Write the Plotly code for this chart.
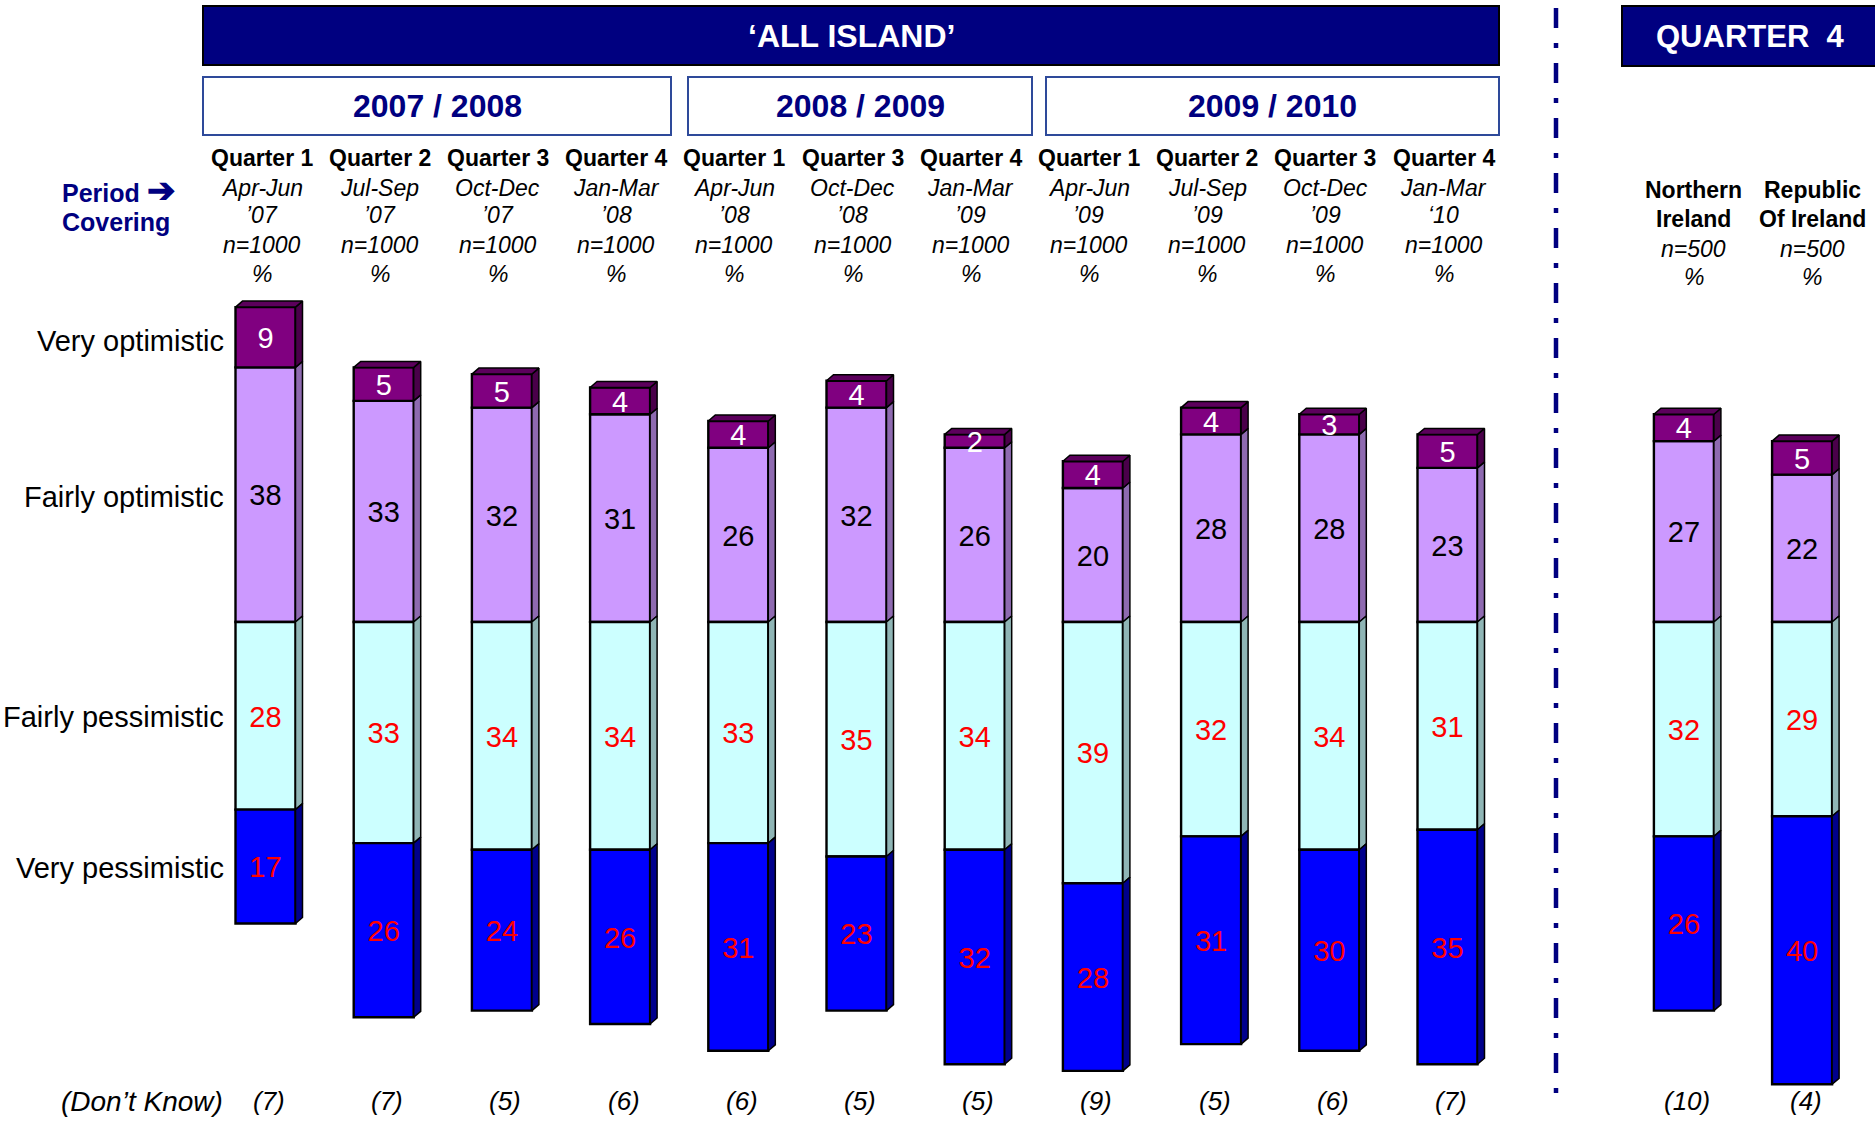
import plotly.graph_objects as go

# ---------------- data ----------------
quarters = ["Quarter 1", "Quarter 2", "Quarter 3", "Quarter 4", "Quarter 1", "Quarter 3",
            "Quarter 4", "Quarter 1", "Quarter 2", "Quarter 3", "Quarter 4"]
months = ["Apr-Jun", "Jul-Sep", "Oct-Dec", "Jan-Mar", "Apr-Jun", "Oct-Dec",
          "Jan-Mar", "Apr-Jun", "Jul-Sep", "Oct-Dec", "Jan-Mar"]
years = ["’07", "’07", "’07", "’08", "’08", "’08", "’09", "’09", "’09", "’09", "‘10"]
regions = ["Northern<br>Ireland", "Republic<br>Of Ireland"]
sample_sizes = ["n=1000"] * 11 + ["n=500"] * 2
groups = ["all"] * 11 + ["q4"] * 2

very_opt = [9, 5, 5, 4, 4, 4, 2, 4, 4, 3, 5, 4, 5]
fairly_opt = [38, 33, 32, 31, 26, 32, 26, 20, 28, 28, 23, 27, 22]
fairly_pess = [28, 33, 34, 34, 33, 35, 34, 39, 32, 34, 31, 32, 29]
very_pess = [17, 26, 24, 26, 31, 23, 32, 28, 31, 30, 35, 26, 40]
dont_know = [7, 7, 5, 6, 6, 5, 5, 9, 5, 6, 7, 10, 4]

row_labels = ["Very optimistic", "Fairly optimistic", "Fairly pessimistic", "Very pessimistic"]
year_spans = ["2007 / 2008", "2008 / 2009", "2009 / 2010"]

# ---------------- layout constants ----------------
W, H = 1875, 1121
FONT = "Liberation Sans, Arial, sans-serif"
NAVY = "#000080"
C_VO, C_FO, C_FP, C_VP = "#800080", "#CC99FF", "#CCFFFF", "#0000FF"
S_VO, S_FO, S_FP, S_VP = "#4A004A", "#8E6AB0", "#8FB5B5", "#00008C"
TOP_VO = "#5C005C"

# x positions: gap of one slot between the two groups
xs = []
pos = 0
prev = groups[0]
for g in groups:
    if g != prev:
        pos += 1
        prev = g
    xs.append(pos)
    pos += 1

X0_PX, X_STEP = 265.5, 118.2
Y0_PX, Y_STEP = 622.0, 6.7
xrange_ = [-X0_PX / X_STEP, (W - X0_PX) / X_STEP]
yrange_ = [-(H - Y0_PX) / Y_STEP, Y0_PX / Y_STEP]
BW = 60 / X_STEP          # bar front width
DX = 7 / X_STEP           # depth (x)
DY = 6 / Y_STEP           # depth (y)
TXT_DROP = 3.5 / Y_STEP   # nudge value labels to visual centre


def py(p):  # pixel y -> paper
    return 1 - p / H


def px(p):
    return p / W


fig = go.Figure()

neg_fp = [-v for v in fairly_pess]
neg_vp = [-v for v in very_pess]
vo_base = fairly_opt
vp_base = neg_fp

segs = [
    (fairly_opt, [0] * len(xs), C_FO, S_FO),
    (very_opt, vo_base, C_VO, S_VO),
    (neg_fp, [0] * len(xs), C_FP, S_FP),
    (neg_vp, vp_base, C_VP, S_VP),
]

for vals, base, col, side in segs:
    fig.add_trace(go.Bar(x=xs, y=vals, base=base, width=BW,
                         marker=dict(color=col, line=dict(color="black", width=2.4)),
                         hoverinfo="skip", showlegend=False))

# 3D side faces
for vals, base, col, side in segs:
    sx, sy = [], []
    for x, v, b in zip(xs, vals, base):
        y0, y1 = min(b, b + v), max(b, b + v)
        xr = x + BW / 2
        sx += [xr, xr + DX, xr + DX, xr, xr, None]
        sy += [y0, y0 + DY, y1 + DY, y1, y0, None]
    fig.add_trace(go.Scatter(x=sx, y=sy, mode="lines", fill="toself", fillcolor=side,
                             line=dict(color="black", width=1.5), hoverinfo="skip",
                             showlegend=False))
# top faces
tx, ty = [], []
for x, fo, vo in zip(xs, fairly_opt, very_opt):
    top = fo + vo
    xl, xr = x - BW / 2, x + BW / 2
    tx += [xl, xl + DX, xr + DX, xr, xl, None]
    ty += [top, top + DY, top + DY, top, top, None]
fig.add_trace(go.Scatter(x=tx, y=ty, mode="lines", fill="toself", fillcolor=TOP_VO,
                         line=dict(color="black", width=1.5), hoverinfo="skip",
                         showlegend=False))

# value labels
lab_specs = [
    (very_opt, [f + v / 2 for f, v in zip(fairly_opt, very_opt)], "white"),
    (fairly_opt, [v / 2 for v in fairly_opt], "black"),
    (fairly_pess, [-v / 2 for v in fairly_pess], "red"),
    (very_pess, [-f - v / 2 for f, v in zip(fairly_pess, very_pess)], "red"),
]
for vals, ys, col in lab_specs:
    fig.add_trace(go.Scatter(x=xs, y=[y - TXT_DROP for y in ys], mode="text",
                             text=[str(v) for v in vals],
                             textfont=dict(family=FONT, size=29, color=col),
                             textposition="middle center", hoverinfo="skip",
                             showlegend=False, cliponaxis=False))

ann = []
shapes = []

# row labels aligned to the first bar's segments
row_y = [fairly_opt[0] + very_opt[0] / 2, fairly_opt[0] / 2,
         -fairly_pess[0] / 2, -fairly_pess[0] - very_pess[0] / 2]
row_nudge = [-0.6, -0.3, -0.15, -0.15]
for t, yv, nd in zip(row_labels, row_y, row_nudge):
    ann.append(dict(text=t, x=px(226), xref="paper", y=yv + nd, yref="y", xanchor="right",
                    yanchor="middle", showarrow=False,
                    font=dict(family=FONT, size=29, color="black")))

# don't know row
ann.append(dict(text="<i>(Don’t Know)</i>", x=px(225), xref="paper", y=py(1101), yref="paper",
                xanchor="right", yanchor="middle", showarrow=False,
                font=dict(family=FONT, size=28, color="black")))
for x, d in zip(xs, dont_know):
    ann.append(dict(text=f"<i>({d})</i>", x=x + DX / 2, xref="x", y=py(1101), yref="paper",
                    xanchor="center", yanchor="middle", showarrow=False,
                    font=dict(family=FONT, size=26, color="black")))

# column headers
hdr_font = dict(family=FONT, size=23, color="black")
HDR_SHIFT = -4 / X_STEP
for i in range(11):
    x = xs[i] + HDR_SHIFT
    lines = [(f"<b>{quarters[i]}</b>", 158), (f"<i>{months[i]}</i>", 188),
             (f"<i>{years[i]}</i>", 215), (f"<i>{sample_sizes[i]}</i>", 245), ("<i>%</i>", 274)]
    for t, p in lines:
        ann.append(dict(text=t, x=x, xref="x", y=py(p), yref="paper", xanchor="center",
                        yanchor="middle", showarrow=False, font=hdr_font))
for j, r in enumerate(regions):
    i = 11 + j
    x = xs[i] + 10 / X_STEP
    l1, l2 = r.split("<br>")
    lines = [(f"<b>{l1}</b>", 190), (f"<b>{l2}</b>", 219),
             (f"<i>{sample_sizes[i]}</i>", 249), ("<i>%</i>", 277)]
    for t, p in lines:
        ann.append(dict(text=t, x=x, xref="x", y=py(p), yref="paper", xanchor="center",
                        yanchor="middle", showarrow=False, font=hdr_font))

# Period covering
ann.append(dict(text="<b>Period <span style='font-size:34px'>➔</span></b>", x=px(60),
                xref="paper", y=py(190), yref="paper",
                xanchor="left", yanchor="middle", showarrow=False,
                font=dict(family=FONT, size=25, color=NAVY)))
ann.append(dict(text="<b>Covering</b>", x=px(60), xref="paper", y=py(222), yref="paper",
                xanchor="left", yanchor="middle", showarrow=False,
                font=dict(family=FONT, size=25, color=NAVY)))

# top banners
def box(x0, x1, y0, y1, fill, line, lw):
    shapes.append(dict(type="rect", xref="paper", yref="paper", x0=px(x0), x1=px(x1),
                       y0=py(y1), y1=py(y0), fillcolor=fill, line=dict(color=line, width=lw),
                       layer="above"))

box(203, 1499, 6, 65, NAVY, "black", 2)
ann.append(dict(text="<b>‘ALL ISLAND’</b>", x=px((203 + 1499) / 2), xref="paper", y=py(36),
                yref="paper", xanchor="center", yanchor="middle", showarrow=False,
                font=dict(family=FONT, size=32, color="white")))
box(1622, 1885, 6, 66, NAVY, "black", 2)
ann.append(dict(text="<b>QUARTER  4</b>", x=px(1750), xref="paper", y=py(36),
                yref="paper", xanchor="center", yanchor="middle", showarrow=False,
                font=dict(family=FONT, size=31, color="white")))

year_boxes = [(203, 671), (688, 1032), (1046, 1499)]
for (a, b), t in zip(year_boxes, year_spans):
    box(a, b, 77, 135, "white", "#2E4A9A", 2)
    ann.append(dict(text=f"<b>{t}</b>", x=px((a + b) / 2), xref="paper", y=py(106),
                    yref="paper", xanchor="center", yanchor="middle", showarrow=False,
                    font=dict(family=FONT, size=32, color=NAVY)))

# dash-dot divider
shapes.append(dict(type="line", xref="paper", yref="paper", x0=px(1556), x1=px(1556),
                   y0=py(8), y1=py(1106),
                   line=dict(color=NAVY, width=4.5, dash="20px,15px,5px,15px")))

fig.update_layout(
    width=W, height=H,
    margin=dict(l=0, r=0, t=0, b=0),
    paper_bgcolor="white", plot_bgcolor="white",
    barmode="overlay",
    xaxis=dict(range=xrange_, visible=False, fixedrange=True),
    yaxis=dict(range=yrange_, visible=False, fixedrange=True),
    annotations=ann, shapes=shapes,
    showlegend=False,
)

fig.write_html("out.html", post_script="document.body.style.margin='0';",
               config={"displayModeBar": False})
